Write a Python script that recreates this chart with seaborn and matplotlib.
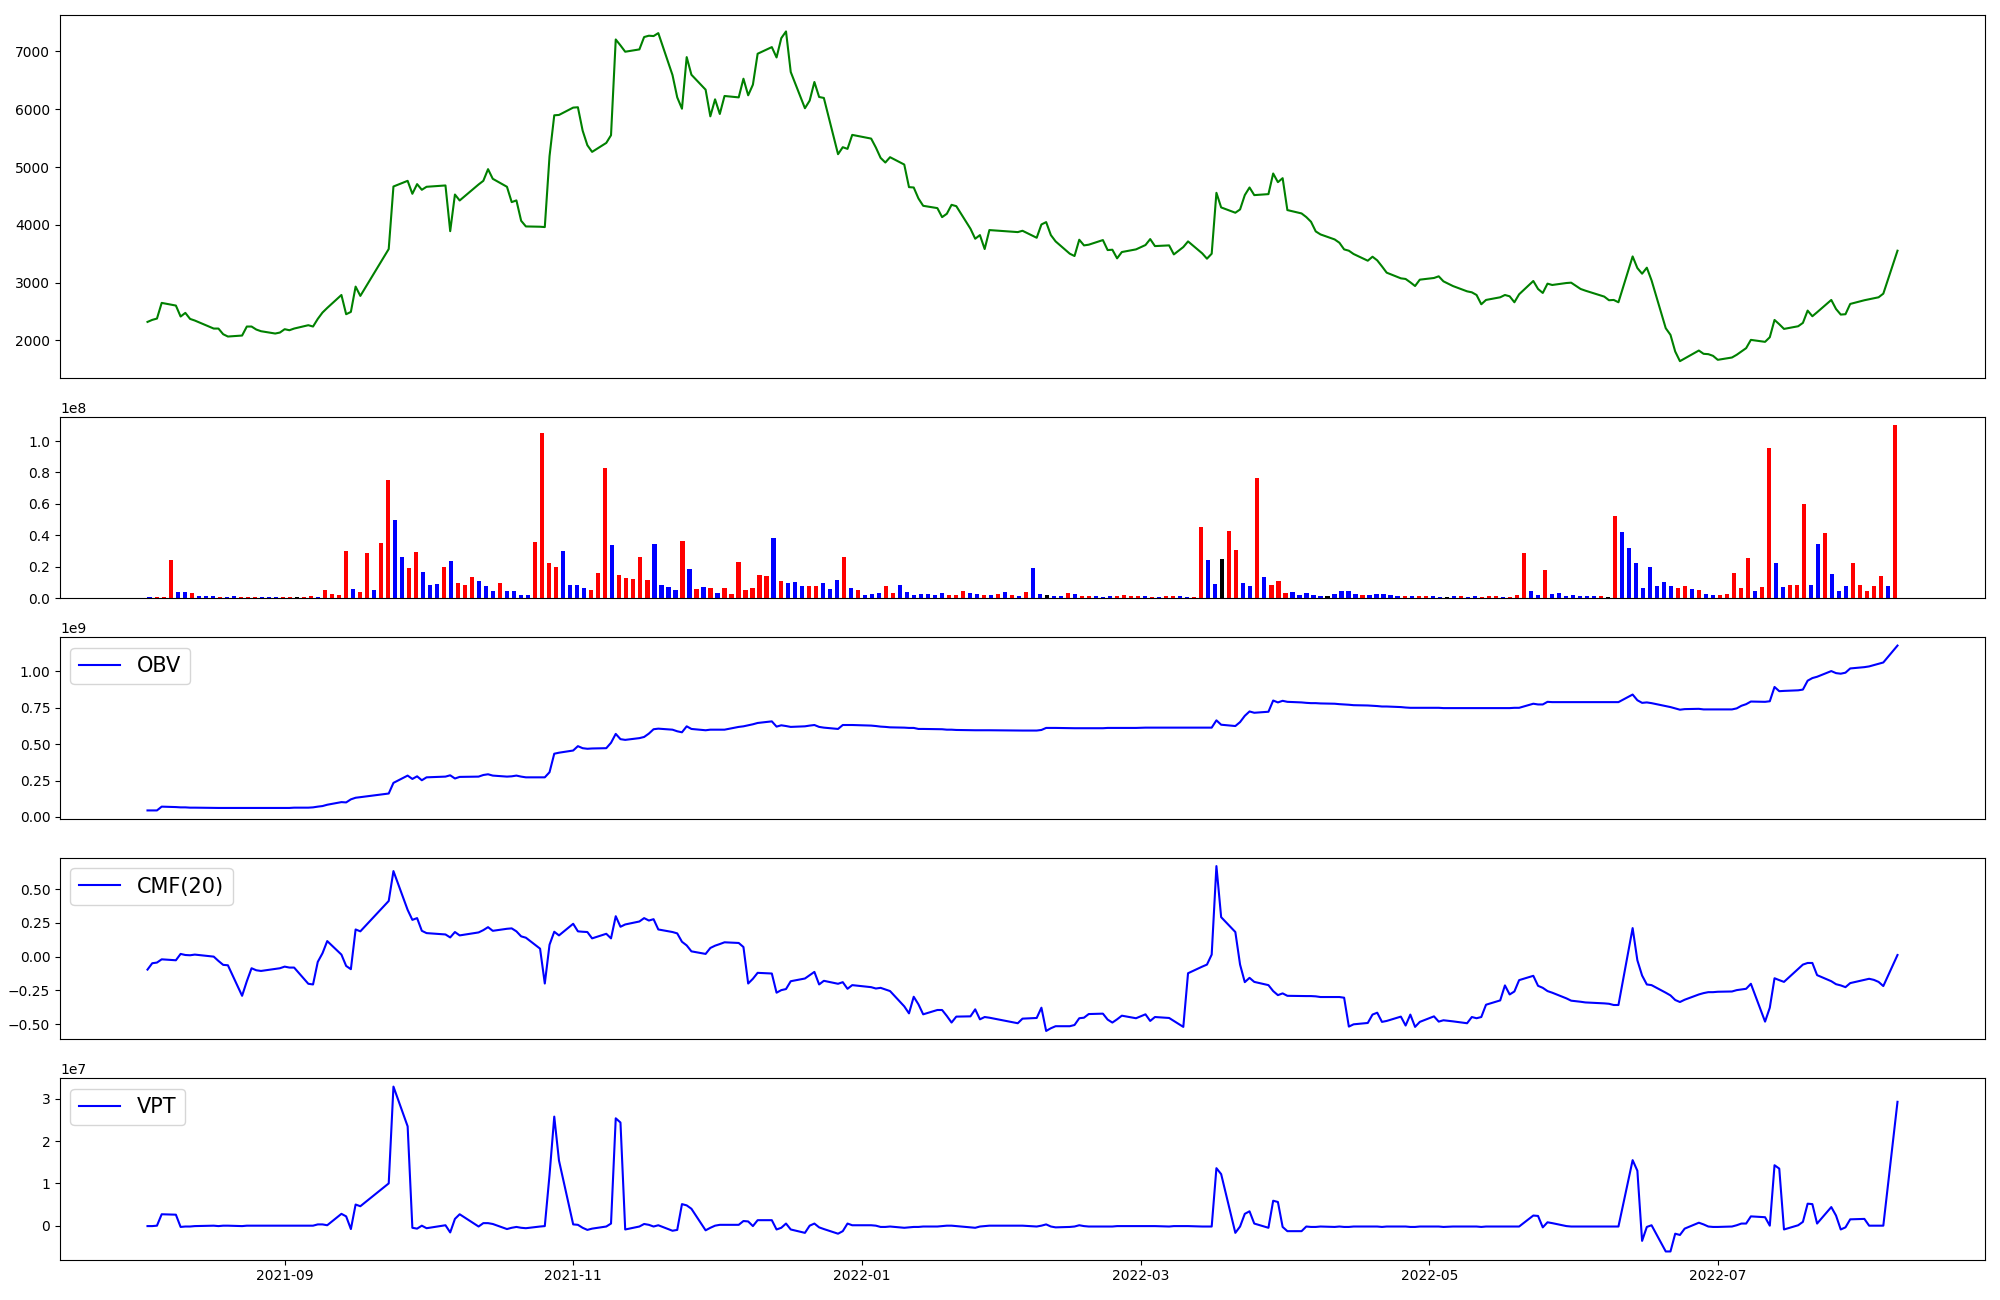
import numpy as np
import pandas as pd
import matplotlib
matplotlib.use("Agg")
import matplotlib.pyplot as plt
import matplotlib.dates as mdates
import seaborn as sns

# Korean exchange trading calendar (weekday holidays removed)
holidays = ["2021-08-16", "2021-09-20", "2021-09-21", "2021-09-22", "2021-10-04",
            "2021-10-11", "2021-12-31", "2022-01-31", "2022-02-01", "2022-02-02",
            "2022-03-01", "2022-03-09", "2022-05-05", "2022-06-01", "2022-06-06"]
dates = pd.bdate_range("2021-08-03", "2022-08-08")
dates = dates[~dates.isin(pd.to_datetime(holidays))]

close = [2321,2356,2379,2650,2604,2414,2477,2373,2345,2206,
         2206,2108,2068,2085,2241,2241,2189,2160,2120,2137,
         2195,2177,2206,2264,2241,2373,2483,2563,2787,2454,
         2494,2932,2771,3582,4664,4762,4538,4705,4607,4659,
         4682,3891,4525,4422,4699,4762,4964,4797,4659,4394,
         4423,4071,3973,3968,3962,5188,5896,5902,6029,6035,
         5631,5378,5263,5418,5551,7208,7105,6996,7036,7250,
         7273,7267,7318,6592,6206,6010,6903,6598,6339,5878,
         6172,5919,6230,6206,6529,6242,6426,6961,7076,6897,
         7231,7347,6645,6018,6150,6472,6213,6196,5223,5344,
         5315,5557,5493,5338,5159,5079,5171,5044,4653,4647,
         4457,4330,4290,4134,4192,4347,4324,3933,3760,3823,
         3582,3910,3875,3898,3777,4007,4048,3823,3714,3501,
         3461,3743,3645,3657,3737,3564,3570,3421,3530,3576,
         3651,3754,3633,3645,3489,3616,3714,3507,3415,3501,
         4555,4302,4210,4267,4515,4647,4515,4532,4889,4739,
         4808,4256,4198,4135,4054,3887,3835,3748,3691,3576,
         3553,3496,3380,3449,3386,3282,3173,3075,3064,3006,
         2942,3052,3081,3110,3023,2942,2850,2833,2787,2626,
         2701,2747,2787,2764,2661,2799,3029,2891,2822,2983,
         2960,2994,3000,2891,2862,2759,2696,2701,2661,3454,
         3253,3155,3259,3040,2212,2097,1809,1642,1688,1826,
         1769,1763,1734,1665,1705,1752,1809,1867,2010,1976,
         2056,2355,2281,2200,2246,2304,2517,2419,2488,2701,
         2545,2448,2454,2632,2696,2713,2730,2747,2810,3553]

volume_millions = [0.8,0.8,0.8,24.3,4.0,4.0,3.4,1.5,1.5,1.5,
                   0.8,0.8,1.5,0.8,0.8,0.8,0.8,0.8,0.8,0.8,
                   0.8,0.8,0.8,1.5,0.8,5.3,2.7,2.1,30.0,5.9,
                   4.0,28.8,5.3,35.1,75.0,49.7,26.2,19.2,29.4,16.7,
                   8.5,9.1,19.9,23.7,9.7,8.5,13.5,11.0,7.8,4.7,
                   9.7,4.7,4.7,2.1,2.1,35.7,104.9,22.4,19.9,30.0,
                   8.5,8.5,6.6,5.3,16.1,82.7,33.8,14.8,12.9,12.3,
                   26.2,11.6,34.5,8.5,7.2,5.3,36.4,18.6,5.9,7.2,
                   6.6,3.4,6.6,2.7,23.0,5.3,6.6,14.8,14.2,38.3,
                   11.0,9.7,10.4,7.8,7.8,7.8,9.7,5.9,11.6,26.2,
                   6.6,5.3,2.1,2.7,3.4,7.8,3.4,8.5,4.0,2.1,
                   2.7,2.7,2.1,3.4,2.1,2.1,4.7,3.4,2.7,2.1,
                   2.1,2.7,4.0,2.1,1.5,4.0,19.2,2.7,2.1,1.5,
                   1.5,3.4,2.7,1.5,1.5,1.5,0.8,1.5,1.5,2.1,
                   1.5,1.5,1.5,0.8,0.8,1.5,1.5,1.5,0.8,0.8,
                   45.2,24.3,9.1,24.9,42.7,30.7,9.7,7.8,76.3,13.5,
                   8.5,11.0,3.4,4.0,2.1,3.4,2.1,1.5,1.5,2.7,
                   4.7,4.7,2.7,2.1,2.1,2.7,2.7,2.1,1.5,1.5,
                   1.5,1.5,1.5,1.5,0.8,0.8,1.5,1.5,0.8,1.5,
                   0.8,1.5,1.5,0.8,0.8,2.1,28.8,4.7,2.1,18.0,
                   2.7,3.4,1.5,2.1,1.5,1.5,1.5,1.5,0.8,52.2,
                   42.1,31.9,22.4,6.6,19.9,7.8,10.4,7.8,6.6,7.8,
                   5.9,5.3,2.7,2.1,2.1,2.7,16.1,6.6,25.6,4.7,
                   7.2,95.3,22.4,7.2,8.5,8.5,59.8,8.5,34.5,41.4,
                   15.4,4.7,7.8,22.4,8.5,4.7,7.8,14.2,7.8,109.9]

# r = up day, b = down day, k = unchanged
bar_dir = list("brrrbbrbbb" "rbbrrrbbbr" "rkrrbrrrrb" "rrbrrbbrrb" "bbrbrrrbbb"
               "rbbbbrrrrb" "bbbrrrbrrr" "rrbbbbrbrb" "rbrrrrrrrb" "rbbbrrbbbr"
               "brbbbrrbbb" "bbbbrrrbbr" "brbrbrbbkb" "brbrrbbbrr" "rrbrbrrbbr"
               "rbbkrrbbrb" "rrrbbbbbkb" "bbbrbbbbbr" "brrbbkbrbb" "rrrbrrrbbr"
               "bbbbbbbrkr" "bbbbbbbbrr" "brbbrrrrrb" "rrbbrrrbbr" "bbbrrrrrbr")

obv_billions = [0.045,0.045,0.045,0.071,0.068,0.066,0.066,0.064,0.064,0.062,
                0.062,0.062,0.062,0.062,0.062,0.062,0.062,0.062,0.062,0.062,
                0.062,0.062,0.064,0.064,0.066,0.071,0.075,0.084,0.102,0.100,
                0.121,0.132,0.136,0.161,0.234,0.284,0.261,0.279,0.252,0.272,
                0.277,0.286,0.264,0.275,0.277,0.288,0.293,0.284,0.277,0.279,
                0.284,0.277,0.272,0.272,0.272,0.307,0.434,0.441,0.456,0.486,
                0.472,0.468,0.470,0.472,0.509,0.570,0.534,0.529,0.541,0.549,
                0.572,0.602,0.606,0.599,0.588,0.581,0.622,0.604,0.595,0.599,
                0.599,0.599,0.599,0.618,0.622,0.629,0.636,0.645,0.656,0.620,
                0.629,0.624,0.618,0.622,0.627,0.631,0.618,0.613,0.604,0.631,
                0.631,0.631,0.627,0.624,0.620,0.618,0.615,0.613,0.611,0.611,
                0.604,0.604,0.602,0.602,0.599,0.599,0.597,0.595,0.595,0.595,
                0.595,0.595,0.593,0.593,0.593,0.597,0.611,0.611,0.611,0.609,
                0.609,0.609,0.609,0.609,0.609,0.611,0.611,0.611,0.611,0.611,
                0.613,0.613,0.613,0.613,0.613,0.613,0.613,0.613,0.613,0.613,
                0.663,0.633,0.624,0.651,0.694,0.724,0.715,0.722,0.799,0.786,
                0.797,0.790,0.786,0.783,0.781,0.781,0.779,0.777,0.774,0.772,
                0.770,0.767,0.765,0.763,0.761,0.758,0.758,0.754,0.751,0.749,
                0.749,0.749,0.749,0.749,0.747,0.747,0.747,0.747,0.747,0.747,
                0.747,0.747,0.747,0.747,0.749,0.749,0.777,0.772,0.772,0.790,
                0.788,0.788,0.788,0.788,0.788,0.788,0.788,0.788,0.788,0.840,
                0.801,0.783,0.786,0.781,0.761,0.754,0.745,0.736,0.740,0.742,
                0.738,0.738,0.738,0.738,0.738,0.745,0.763,0.774,0.792,0.790,
                0.794,0.892,0.863,0.865,0.869,0.874,0.935,0.953,0.962,1.001,
                0.987,0.983,0.990,1.019,1.028,1.033,1.042,1.051,1.060,1.176]

cmf20 = [-0.096,-0.049,-0.044,-0.020,-0.027,0.020,0.012,0.010,0.015,0.000,
         -0.032,-0.061,-0.064,-0.290,-0.182,-0.086,-0.101,-0.106,-0.091,-0.086,
         -0.074,-0.081,-0.081,-0.201,-0.206,-0.039,0.025,0.115,0.015,-0.069,
         -0.093,0.201,0.187,0.412,0.633,0.346,0.272,0.285,0.191,0.174,
         0.164,0.142,0.182,0.157,0.179,0.196,0.218,0.191,0.206,0.209,
         0.187,0.150,0.140,0.059,-0.199,0.088,0.184,0.157,0.243,0.187,
         0.184,0.182,0.135,0.169,0.135,0.299,0.221,0.238,0.260,0.285,
         0.267,0.277,0.201,0.182,0.172,0.110,0.083,0.039,0.020,0.064,
         0.081,0.093,0.106,0.101,0.071,-0.199,-0.164,-0.120,-0.125,-0.267,
         -0.248,-0.240,-0.182,-0.162,-0.137,-0.113,-0.206,-0.179,-0.201,-0.189,
         -0.238,-0.211,-0.226,-0.236,-0.231,-0.243,-0.255,-0.368,-0.420,-0.297,
         -0.353,-0.427,-0.395,-0.395,-0.439,-0.488,-0.444,-0.442,-0.390,-0.464,
         -0.447,-0.452,-0.493,-0.459,-0.454,-0.378,-0.550,-0.530,-0.515,-0.515,
         -0.506,-0.456,-0.452,-0.425,-0.422,-0.466,-0.488,-0.464,-0.437,-0.456,
         -0.427,-0.476,-0.447,-0.454,-0.476,-0.520,-0.123,-0.074,-0.059,0.015,
         0.670,0.292,0.182,-0.059,-0.189,-0.157,-0.187,-0.211,-0.255,-0.285,
         -0.272,-0.290,-0.292,-0.292,-0.292,-0.294,-0.299,-0.299,-0.299,-0.304,
         -0.518,-0.501,-0.491,-0.429,-0.415,-0.483,-0.476,-0.444,-0.510,-0.429,
         -0.520,-0.483,-0.442,-0.481,-0.471,-0.479,-0.493,-0.447,-0.456,-0.447,
         -0.356,-0.324,-0.213,-0.280,-0.258,-0.174,-0.142,-0.216,-0.231,-0.255,
         -0.267,-0.309,-0.326,-0.334,-0.339,-0.346,-0.349,-0.358,-0.358,0.211,
         -0.027,-0.140,-0.206,-0.211,-0.267,-0.287,-0.321,-0.336,-0.319,-0.280,
         -0.270,-0.263,-0.263,-0.260,-0.258,-0.248,-0.243,-0.238,-0.201,-0.481,
         -0.378,-0.160,-0.174,-0.187,-0.091,-0.059,-0.047,-0.047,-0.137,-0.182,
         -0.204,-0.213,-0.226,-0.196,-0.172,-0.164,-0.172,-0.187,-0.218,0.012]

vpt_1e7 = [-0.01,-0.01,0.00,0.27,0.26,-0.03,-0.02,-0.02,-0.01,0.00,
           -0.01,0.00,0.00,-0.01,0.00,0.00,0.00,0.00,0.00,0.00,
           0.00,0.00,0.00,0.00,0.00,0.03,0.03,0.01,0.28,0.22,
           -0.08,0.50,0.46,1.00,3.29,2.35,-0.05,-0.07,0.00,-0.06,
           0.01,-0.16,0.16,0.27,-0.02,0.06,0.06,0.04,-0.08,-0.05,
           -0.03,-0.05,-0.06,-0.02,-0.01,1.20,2.58,1.54,0.03,0.02,
           -0.05,-0.10,-0.07,-0.02,0.05,2.54,2.44,-0.09,-0.02,0.04,
           0.02,-0.02,0.01,-0.12,-0.10,0.51,0.48,0.40,-0.11,-0.05,
           0.00,0.02,0.02,0.02,0.11,0.10,-0.01,0.13,0.13,-0.09,
           -0.05,0.05,-0.09,-0.17,0.00,0.05,-0.04,-0.08,-0.19,-0.13,
           0.05,0.01,0.01,0.00,-0.03,-0.03,-0.02,-0.05,-0.04,-0.03,
           -0.03,-0.02,-0.02,-0.01,0.00,0.00,-0.01,-0.04,-0.05,-0.02,
           -0.01,0.00,0.00,0.00,-0.02,0.00,0.03,-0.02,-0.04,-0.03,
           -0.02,0.01,-0.01,-0.02,-0.02,-0.02,-0.02,-0.01,-0.01,-0.01,
           -0.01,-0.01,-0.01,-0.02,-0.01,-0.01,-0.01,-0.02,-0.02,-0.02,
           1.36,1.22,-0.17,-0.02,0.28,0.34,0.05,-0.05,0.59,0.56,
           -0.03,-0.13,-0.13,-0.02,-0.03,-0.03,-0.02,-0.03,-0.02,-0.03,
           -0.03,-0.02,-0.02,-0.02,-0.02,-0.03,-0.02,-0.02,-0.02,-0.03,
           -0.03,-0.02,-0.02,-0.02,-0.03,-0.02,-0.02,-0.02,-0.02,-0.03,
           -0.02,-0.02,-0.02,-0.02,-0.02,-0.02,0.24,0.23,-0.04,0.08,
           0.06,-0.01,-0.02,-0.02,-0.02,-0.02,-0.02,-0.02,-0.02,1.55,
           1.30,-0.36,-0.03,0.01,-0.61,-0.61,-0.19,-0.22,-0.07,0.07,
           0.03,-0.02,-0.03,-0.03,-0.02,0.01,0.05,0.05,0.22,0.20,
           0.00,1.43,1.35,-0.09,0.01,0.09,0.52,0.51,0.05,0.44,
           0.24,-0.09,-0.04,0.15,0.16,0.00,0.00,0.00,0.00,2.93]

fig = plt.figure(figsize=(20, 13), dpi=100)
gs = fig.add_gridspec(5, 1, height_ratios=[2, 1, 1, 1, 1], left=0.03, right=0.9925,
                      top=0.9885, bottom=0.031, hspace=0.18)
ax1 = fig.add_subplot(gs[0])
ax2 = fig.add_subplot(gs[1])
ax3 = fig.add_subplot(gs[2])
ax4 = fig.add_subplot(gs[3])
ax5 = fig.add_subplot(gs[4])

# price
sns.lineplot(x=dates, y=close, ax=ax1, color="green", linewidth=1.5)

# volume bars (evenly spaced by trading day)
bar_w = 0.6
bar_df = pd.DataFrame({"i": np.arange(len(volume_millions)),
                       "v": np.array(volume_millions) * 1e6,
                       "d": bar_dir})
sns.barplot(data=bar_df, x="i", y="v", hue="d",
            palette={"r": "red", "b": "blue", "k": "black"},
            dodge=False, legend=False, saturation=1, width=bar_w,
            errorbar=None, ax=ax2)
n = len(volume_millions)
pad = 0.05 * (n - 1 + bar_w)
ax2.set_xlim(-bar_w / 2 - pad, n - 1 + bar_w / 2 + pad)

sns.lineplot(x=dates, y=np.array(obv_billions) * 1e9, ax=ax3, color="blue",
             linewidth=1.5, label="OBV")
sns.lineplot(x=dates, y=cmf20, ax=ax4, color="blue", linewidth=1.5, label="CMF(20)")
sns.lineplot(x=dates, y=np.array(vpt_1e7) * 1e7, ax=ax5, color="blue",
             linewidth=1.5, label="VPT")

for ax in (ax3, ax4, ax5):
    ax.legend(loc="upper left", fontsize=15)

for ax in (ax1, ax2, ax3, ax4, ax5):
    ax.set_xlabel("")
    ax.set_ylabel("")
for ax in (ax1, ax2, ax3, ax4):
    ax.set_xticks([])

ax5.xaxis.set_major_locator(mdates.MonthLocator(bymonth=(1, 3, 5, 7, 9, 11)))
ax5.xaxis.set_major_formatter(mdates.DateFormatter("%Y-%m"))

fig.savefig("out.png", dpi=100)
